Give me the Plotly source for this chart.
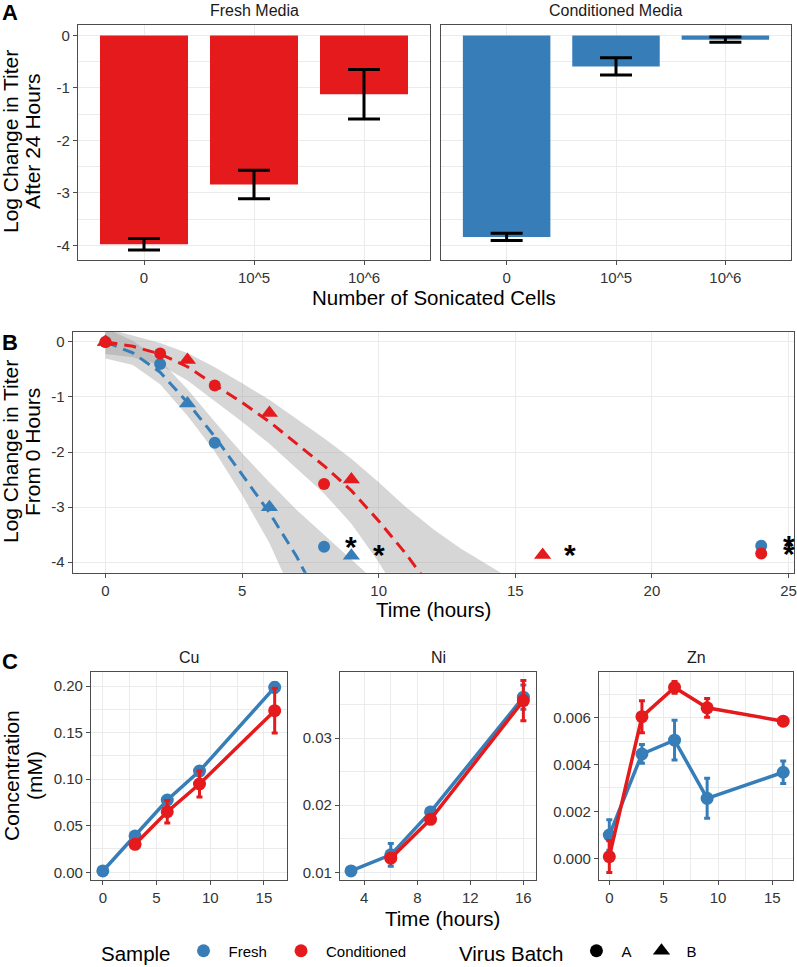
import plotly.graph_objects as go

W, H = 797, 967
RED = "#E41A1C"
BLUE = "#377EB8"
FONT = "Liberation Sans, Arial, Helvetica, sans-serif"

# ---------------- Panel A data ----------------
a_categories = ["0", "10^5", "10^6"]
a_fresh_mean = [-3.98, -2.84, -1.12]
a_fresh_err = [0.11, 0.27, 0.47]
a_cond_mean = [-3.84, -0.59, -0.08]
a_cond_err = [0.07, 0.165, 0.05]
a_yticks = [0, -1, -2, -3, -4]
a_yticklabels = ["0", "-1", "-2", "-3", "-4"]

# ---------------- Panel B data ----------------
b_fresh_A_t = [0, 2, 4, 8, 24]
b_fresh_A_y = [0, -0.40, -1.83, -3.72, -3.70]
b_fresh_B_t = [0, 3, 6, 9]
b_fresh_B_y = [0, -1.12, -3.00, -3.88]
b_cond_A_t = [0, 2, 4, 8, 24]
b_cond_A_y = [0, -0.21, -0.79, -2.58, -3.84]
b_cond_B_t = [0, 3, 6, 9, 16]
b_cond_B_y = [0, -0.33, -1.29, -2.50, -3.87]

# smoothed fits
b_fresh_fit_t = [0, 1, 2, 3, 4, 5, 6, 7, 8, 9, 10]
b_fresh_fit = [0.0, -0.20, -0.55, -1.10, -1.72, -2.40, -3.10, -3.90, -4.80, -5.80, -6.90]
b_fresh_upper = [0.25, 0.02, -0.33, -0.86, -1.45, -2.02, -2.55, -3.05, -3.50, -3.95, -4.40]
b_fresh_lower = [-0.30, -0.42, -0.77, -1.34, -1.99, -2.78, -3.65, -4.75, -6.10, -7.60, -9.30]

b_cond_fit_t = [0, 1, 2, 3, 4, 5, 6, 7, 8, 9, 10, 11, 12, 13, 14, 15]
b_cond_fit = [0.0, -0.08, -0.22, -0.45, -0.78, -1.10, -1.45, -1.85, -2.25, -2.70, -3.25, -3.85, -4.50, -5.20, -5.95, -6.75]
b_cond_upper = [0.25, 0.12, -0.02, -0.20, -0.46, -0.75, -1.05, -1.40, -1.75, -2.12, -2.55, -3.00, -3.40, -3.75, -4.05, -4.35]
b_cond_lower = [-0.22, -0.28, -0.42, -0.70, -1.08, -1.45, -1.85, -2.30, -2.75, -3.30, -4.00, -4.80, -5.70, -6.70, -7.80, -9.00]

b_star_t = [9, 10, 17, 25, 25]
b_star_y = [-3.58, -3.74, -3.74, -3.57, -3.72]
b_xticks = [0, 5, 10, 15, 20, 25]

# ---------------- Panel C data ----------------
cu_fresh_t = [0, 3, 6, 9, 16]
cu_fresh_y = [0.0014, 0.039, 0.0776, 0.1087, 0.1986]
cu_fresh_e = [0.002, 0.003, 0.003, 0.003, 0.005]
cu_cond_t = [3, 6, 9, 16]
cu_cond_y = [0.030, 0.065, 0.0948, 0.1735]
cu_cond_e = [0.002, 0.012, 0.014, 0.024]

ni_fresh_t = [3, 6, 9, 16]
ni_fresh_y = [0.0102, 0.0126, 0.0190, 0.0361]
ni_fresh_e = [0.0002, 0.0017, 0.0004, 0.0018]
ni_cond_t = [6, 9, 16]
ni_cond_y = [0.0121, 0.0179, 0.0356]
ni_cond_e = [0.0004, 0.0004, 0.0030]

zn_fresh_t = [0, 3, 6, 9, 16]
zn_fresh_y = [0.00099, 0.00445, 0.00504, 0.00256, 0.00367]
zn_fresh_e = [0.00065, 0.0004, 0.00085, 0.00085, 0.00048]
zn_cond_t = [0, 3, 6, 9, 16]
zn_cond_y = [0.00007, 0.00604, 0.00729, 0.00642, 0.00585]
zn_cond_e = [0.00068, 0.00068, 0.00025, 0.0004, 0.0001]


def fx(p):
    return p / W


def fy(p):
    return 1 - p / H


fig = go.Figure()

# ---------- A ----------
fig.add_trace(go.Bar(x=a_categories, y=a_fresh_mean, width=0.8, marker=dict(color=RED, line=dict(width=0)),
                     error_y=dict(type="data", array=a_fresh_err, color="black", thickness=3, width=16),
                     xaxis="x", yaxis="y", showlegend=False))
fig.add_trace(go.Bar(x=a_categories, y=a_cond_mean, width=0.8, marker=dict(color=BLUE, line=dict(width=0)),
                     error_y=dict(type="data", array=a_cond_err, color="black", thickness=3, width=16),
                     xaxis="x2", yaxis="y2", showlegend=False))

# ---------- B ----------
RIB = "rgba(153,153,153,0.4)"
for t, up, lo in [(b_fresh_fit_t, b_fresh_upper, b_fresh_lower), (b_cond_fit_t, b_cond_upper, b_cond_lower)]:
    fig.add_trace(go.Scatter(x=list(t) + list(t)[::-1], y=list(up) + list(lo)[::-1], fill="toself",
                             fillcolor=RIB, line=dict(width=0), mode="lines", hoverinfo="skip",
                             xaxis="x3", yaxis="y3", showlegend=False))
fig.add_trace(go.Scatter(x=b_fresh_fit_t, y=b_fresh_fit, mode="lines", line=dict(color=BLUE, width=3, dash="12px,7px"),
                         xaxis="x3", yaxis="y3", showlegend=False))
fig.add_trace(go.Scatter(x=b_cond_fit_t, y=b_cond_fit, mode="lines", line=dict(color=RED, width=3, dash="12px,7px"),
                         xaxis="x3", yaxis="y3", showlegend=False))
for t, y, col, sym, sz in [(b_fresh_A_t, b_fresh_A_y, BLUE, "circle", 12),
                           (b_fresh_B_t, b_fresh_B_y, BLUE, "triangle-up", 15),
                           (b_cond_A_t, b_cond_A_y, RED, "circle", 12),
                           (b_cond_B_t, b_cond_B_y, RED, "triangle-up", 15)]:
    fig.add_trace(go.Scatter(x=t, y=y, mode="markers", marker=dict(color=col, symbol=sym, size=sz, line=dict(width=0)),
                             xaxis="x3", yaxis="y3", showlegend=False, cliponaxis=False))

# ---------- C ----------
for (ft, fyv, fe, ct, cy, ce, ax) in [
    (cu_fresh_t, cu_fresh_y, cu_fresh_e, cu_cond_t, cu_cond_y, cu_cond_e, "4"),
    (ni_fresh_t, ni_fresh_y, ni_fresh_e, ni_cond_t, ni_cond_y, ni_cond_e, "5"),
    (zn_fresh_t, zn_fresh_y, zn_fresh_e, zn_cond_t, zn_cond_y, zn_cond_e, "6")]:
    for t, y, e, col in [(ft, fyv, fe, BLUE), (ct, cy, ce, RED)]:
        fig.add_trace(go.Scatter(x=t, y=y, mode="lines+markers",
                                 line=dict(color=col, width=3.5),
                                 marker=dict(color=col, size=13),
                                 error_y=dict(type="data", array=e, color=col, thickness=3, width=3),
                                 xaxis="x" + ax, yaxis="y" + ax, showlegend=False, cliponaxis=False))

# ---------- legend dummies ----------
NB = "\u00a0"
fig.add_trace(go.Scatter(x=[None], y=[None], mode="markers", name="Fresh" + NB, marker=dict(color=BLUE, size=13),
                         legend="legend", xaxis="x3", yaxis="y3"))
fig.add_trace(go.Scatter(x=[None], y=[None], mode="markers", name="Conditioned", marker=dict(color=RED, size=13),
                         legend="legend", xaxis="x3", yaxis="y3"))
fig.add_trace(go.Scatter(x=[None], y=[None], mode="markers", name="A", marker=dict(color="black", size=13, symbol="circle"),
                         legend="legend2", xaxis="x3", yaxis="y3"))
fig.add_trace(go.Scatter(x=[None], y=[None], mode="markers", name="B", marker=dict(color="black", size=15, symbol="triangle-up"),
                         legend="legend2", xaxis="x3", yaxis="y3"))

# ---------- axes ----------
GRID = "#EBEBEB"
BORDER = "#4D4D4D"
TICKF = dict(family=FONT, size=15, color="#333333")


def ax_style(**kw):
    d = dict(showline=True, mirror=True, linecolor=BORDER, linewidth=1.2, ticks="outside", ticklen=4,
             tickcolor=BORDER, tickwidth=1.2, showgrid=True, gridcolor=GRID, gridwidth=1.4, zeroline=False,
             tickfont=TICKF, fixedrange=True, automargin=False)
    d.update(kw)
    return d


minor_style = dict(showgrid=True, gridcolor=GRID, gridwidth=0.7, ticks="")

ya_top, ya_bot = fy(25), fy(260)
layout = dict(
    xaxis=ax_style(domain=[fx(78), fx(430)], anchor="y", type="category", categoryarray=a_categories,
                   range=[-0.6, 2.6]),
    yaxis=ax_style(domain=[ya_bot, ya_top], anchor="x", range=[-4.28, 0.2], tickvals=a_yticks,
                   ticktext=a_yticklabels, minor=dict(tickvals=[-0.5, -1.5, -2.5, -3.5], **minor_style)),
    xaxis2=ax_style(domain=[fx(441), fx(791)], anchor="y2", type="category", categoryarray=a_categories,
                    range=[-0.6, 2.6]),
    yaxis2=ax_style(domain=[ya_bot, ya_top], anchor="x2", range=[-4.28, 0.2], tickvals=a_yticks,
                    showticklabels=False, ticks="", minor=dict(tickvals=[-0.5, -1.5, -2.5, -3.5], **minor_style)),
    xaxis3=ax_style(domain=[fx(72.7), fx(794)], anchor="y3", range=[-1.2, 25.2], tickvals=b_xticks),
    yaxis3=ax_style(domain=[fy(572.7), fy(332)], anchor="x3", range=[-4.19, 0.18], tickvals=a_yticks,
                    ticktext=a_yticklabels),
)
yc_bot, yc_top = fy(880), fy(671.7)
layout.update(
    xaxis4=ax_style(domain=[fx(91), fx(286.5)], anchor="y4", range=[-1.1, 17.1], tickvals=[0, 5, 10, 15],
                    minor=dict(tickvals=[2.5, 7.5, 12.5], **minor_style)),
    yaxis4=ax_style(domain=[yc_bot, yc_top], anchor="x4", range=[-0.0083, 0.2154],
                    tickvals=[0, 0.05, 0.10, 0.15, 0.20], ticktext=["0.00", "0.05", "0.10", "0.15", "0.20"],
                    minor=dict(tickvals=[0.025, 0.075, 0.125, 0.175], **minor_style)),
    xaxis5=ax_style(domain=[fx(340), fx(535.7)], anchor="y5", range=[2.17, 16.93], tickvals=[4, 8, 12, 16],
                    minor=dict(tickvals=[6, 10, 14], **minor_style)),
    yaxis5=ax_style(domain=[yc_bot, yc_top], anchor="x5", range=[0.00885, 0.0399],
                    tickvals=[0.01, 0.02, 0.03], ticktext=["0.01", "0.02", "0.03"],
                    minor=dict(tickvals=[0.015, 0.025, 0.035], **minor_style)),
    xaxis6=ax_style(domain=[fx(599), fx(793)], anchor="y6", range=[-0.95, 16.9], tickvals=[0, 5, 10, 15],
                    minor=dict(tickvals=[2.5, 7.5, 12.5], **minor_style)),
    yaxis6=ax_style(domain=[yc_bot, yc_top], anchor="x6", range=[-0.000925, 0.00796],
                    tickvals=[0, 0.002, 0.004, 0.006], ticktext=["0.000", "0.002", "0.004", "0.006"],
                    minor=dict(tickvals=[0.001, 0.003, 0.005, 0.007], **minor_style)),
)

ann = []


def text(s, x, y, size, bold=False, angle=0, color="black", xanchor="center"):
    ann.append(dict(text=("<b>%s</b>" % s) if bold else s, x=fx(x), y=fy(y), xref="paper", yref="paper",
                    showarrow=False, xanchor=xanchor, yanchor="middle", textangle=angle,
                    font=dict(family=FONT, size=size, color=color)))


# panel letters
text("A", 10, 12, 22, bold=True)
text("B", 10, 342, 22, bold=True)
text("C", 10, 661, 22, bold=True)
# strips
text("Fresh Media", 254, 10, 16, color="#1A1A1A")
text("Conditioned Media", 616, 10, 16, color="#1A1A1A")
text("Cu", 189, 657, 16, color="#1A1A1A")
text("Ni", 438, 657, 16, color="#1A1A1A")
text("Zn", 696, 657, 16, color="#1A1A1A")
# axis titles
text("Number of Sonicated Cells", 434, 298, 20.5)
text("Log Change in Titer", 11, 142, 21, angle=-90)
text("After 24 Hours", 33, 142, 21, angle=-90)
text("Time (hours)", 433, 609, 20.5)
text("Log Change in Titer", 11, 452, 21, angle=-90)
text("From 0 Hours", 33, 452, 21, angle=-90)
text("Time (hours)", 442, 918, 20.5)
text("Concentration", 11, 776, 21, angle=-90)
text("(mM)", 34, 776, 21, angle=-90)

# asterisks (below-detection markers)
for t, y in zip(b_star_t, b_star_y):
    ann.append(dict(text="<b>*</b>", x=t, y=y, xref="x3", yref="y3", showarrow=False, yshift=-7,
                    xanchor="center", yanchor="middle",
                    font=dict(family=FONT, size=30, color="black")))

fig.update_layout(**layout)
fig.update_layout(
    template="none",
    annotations=ann,
    width=W, height=H, margin=dict(l=0, r=0, t=0, b=0, autoexpand=False),
    paper_bgcolor="white", plot_bgcolor="white",
    font=dict(family=FONT, color="black"),
    barmode="overlay",
    legend=dict(title=dict(text="Sample", font=dict(size=20.5)), orientation="h", x=fx(99), y=fy(953),
                xanchor="left", yanchor="middle", font=dict(size=15), bgcolor="rgba(0,0,0,0)",
                itemsizing="trace", itemwidth=40),
    legend2=dict(title=dict(text="Virus Batch", font=dict(size=20.5)), orientation="h", x=fx(457), y=fy(953),
                 xanchor="left", yanchor="middle", font=dict(size=15), bgcolor="rgba(0,0,0,0)",
                 itemsizing="trace", itemwidth=40),
)

fig.write_html("out.html", config={"displayModeBar": False},
               post_script="document.body.style.margin='0px';document.body.style.padding='0px';")
